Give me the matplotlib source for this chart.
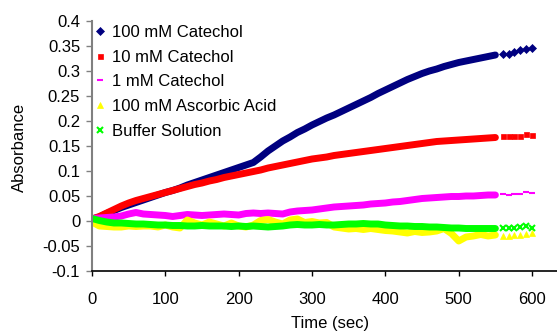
import matplotlib
matplotlib.use("Agg")
import matplotlib.pyplot as plt
from matplotlib.ticker import FuncFormatter

plt.rcParams["font.family"] = ["Liberation Sans", "DejaVu Sans"]
plt.rcParams["font.size"] = 12

# dense readings every 10 s, then the sparse readings at the end
t_dense = list(range(0, 551, 10))
t_tail = [560, 568, 576, 584, 592, 600]

cat100 = [0.004, 0.008, 0.015, 0.021, 0.027, 0.032, 0.037, 0.042, 0.047, 0.052,
          0.057, 0.061, 0.066, 0.072, 0.077, 0.082, 0.087, 0.092, 0.097, 0.102,
          0.107, 0.112, 0.117, 0.128, 0.140, 0.150, 0.160, 0.168, 0.177, 0.184,
          0.192, 0.199, 0.206, 0.212, 0.219, 0.226, 0.233, 0.240, 0.247, 0.255,
          0.262, 0.269, 0.276, 0.283, 0.289, 0.295, 0.300, 0.304, 0.309, 0.313,
          0.317, 0.320, 0.323, 0.326, 0.329, 0.332]
cat100_tail = [0.334, 0.334, 0.339, 0.342, 0.345, 0.347]

cat10 = [0.004, 0.009, 0.016, 0.023, 0.030, 0.036, 0.041, 0.045, 0.049, 0.053,
         0.057, 0.061, 0.065, 0.069, 0.073, 0.076, 0.080, 0.083, 0.087, 0.090,
         0.093, 0.096, 0.099, 0.102, 0.106, 0.109, 0.112, 0.115, 0.118, 0.121,
         0.124, 0.126, 0.128, 0.131, 0.133, 0.135, 0.137, 0.139, 0.141, 0.143,
         0.145, 0.147, 0.149, 0.151, 0.153, 0.155, 0.157, 0.159, 0.160, 0.161,
         0.162, 0.163, 0.164, 0.165, 0.166, 0.167]
cat10_tail = [0.170, 0.170, 0.170, 0.170, 0.174, 0.172]

cat1 = [0.005, 0.006, 0.007, 0.008, 0.010, 0.014, 0.017, 0.014, 0.013, 0.012,
        0.011, 0.009, 0.011, 0.013, 0.012, 0.011, 0.012, 0.013, 0.014, 0.013,
        0.012, 0.015, 0.016, 0.015, 0.016, 0.015, 0.014, 0.018, 0.020, 0.021,
        0.022, 0.024, 0.026, 0.028, 0.029, 0.030, 0.031, 0.032, 0.034, 0.035,
        0.036, 0.038, 0.039, 0.041, 0.043, 0.045, 0.046, 0.047, 0.048, 0.049,
        0.049, 0.050, 0.050, 0.051, 0.052, 0.052]
cat1_tail = [0.054, 0.053, 0.054, 0.055, 0.059, 0.057]

ascorbic = [-0.002, -0.010, -0.011, -0.012, -0.012, -0.010, -0.011, -0.010, -0.010, -0.012,
            -0.008, -0.012, -0.014, 0.002, -0.004, -0.008, -0.002, -0.006, -0.010, -0.004,
            -0.010, -0.012, -0.008, 0.001, 0.003, -0.002, -0.006, 0.002, 0.004, -0.003,
            -0.001, -0.004, -0.003, -0.012, -0.014, -0.016, -0.015, -0.017, -0.015, -0.017,
            -0.019, -0.020, -0.022, -0.024, -0.021, -0.023, -0.022, -0.020, -0.015, -0.025,
            -0.040, -0.032, -0.030, -0.027, -0.030, -0.028]
ascorbic_tail = [-0.030, -0.029, -0.028, -0.028, -0.026, -0.023]

buffer = [0.005, 0.001, -0.002, -0.004, -0.004, -0.005, -0.006, -0.006, -0.007, -0.008,
          -0.008, -0.009, -0.009, -0.010, -0.010, -0.009, -0.010, -0.010, -0.010, -0.011,
          -0.010, -0.011, -0.010, -0.011, -0.012, -0.011, -0.010, -0.008, -0.007, -0.008,
          -0.008, -0.007, -0.008, -0.008, -0.007, -0.006, -0.006, -0.005, -0.006, -0.006,
          -0.008, -0.009, -0.010, -0.010, -0.011, -0.011, -0.012, -0.012, -0.013, -0.014,
          -0.014, -0.015, -0.015, -0.015, -0.015, -0.015]
buffer_tail = [-0.013, -0.013, -0.013, -0.011, -0.009, -0.013]

series = [
    ("100 mM Catechol", cat100, cat100_tail, "#000080", "D", 4.2),
    ("10 mM Catechol", cat10, cat10_tail, "#FF0000", "s", 3.6),
    ("1 mM Catechol", cat1, cat1_tail, "#FF00FF", "_", 5),
    ("100 mM Ascorbic Acid", ascorbic, ascorbic_tail, "#FFFF00", "^", 5),
    ("Buffer Solution", buffer, buffer_tail, "#00FF00", "x", 4.5),
]

fig = plt.figure(figsize=(5.57, 3.33), dpi=100)
ax = fig.add_axes([92 / 557, 62 / 333, 465 / 557, 250 / 333])

for label, dense, tail, color, marker, ms in series:
    ax.plot(t_dense, dense, "-", color=color, lw=5, solid_capstyle="round",
            solid_joinstyle="round")
    ax.plot(t_tail, tail, linestyle="none", marker=marker, color=color,
            markersize=ms, markeredgewidth=1.5 if marker in "x_" else 0.5,
            label=label)

ax.set_xlim(0, 634)
ax.set_ylim(-0.1, 0.4)
ax.set_xticks([0, 100, 200, 300, 400, 500, 600])
ax.set_yticks([-0.1, -0.05, 0, 0.05, 0.1, 0.15, 0.2, 0.25, 0.3, 0.35, 0.4])
ax.yaxis.set_major_formatter(FuncFormatter(lambda v, p: "%g" % round(v, 2)))

ax.spines["top"].set_visible(False)
ax.spines["right"].set_visible(False)
ax.spines["left"].set_color("#808080")
ax.spines["left"].set_linewidth(1.5)
ax.spines["bottom"].set_color("black")
ax.spines["bottom"].set_linewidth(1.2)
ax.tick_params(axis="y", direction="out", length=4.5, width=1, color="#808080", pad=4)
ax.tick_params(axis="x", direction="out", length=3.5, width=1, color="black", pad=11.5)

ax.set_xlabel("Time (sec)", va="center")
ax.xaxis.set_label_coords(0.512, -0.21)
ax.set_ylabel("Absorbance", va="center")
ax.yaxis.set_label_coords(-0.155, 0.494)

ax.legend(loc="upper left", bbox_to_anchor=(93 / 557, 1 - 25 / 333),
          bbox_transform=fig.transFigure, frameon=False, borderpad=0,
          handlelength=0.8, handletextpad=0.35, labelspacing=0.58,
          borderaxespad=0)

fig.savefig("out.png", dpi=100)
